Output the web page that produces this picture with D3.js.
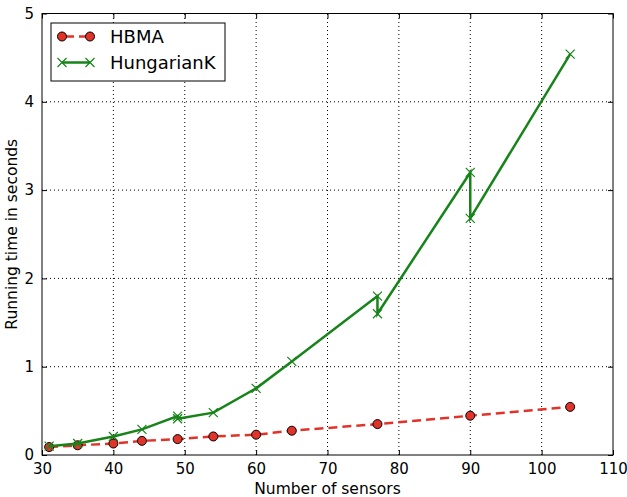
<!DOCTYPE html>
<html>
<head>
<meta charset="utf-8">
<script src="https://cdn.jsdelivr.net/npm/d3@7"></script>
<style>
  body { margin: 0; background: #fff; }
  text { font-family: "DejaVu Sans", sans-serif; fill: #000; }
</style>
</head>
<body>
<script>
//chart data
let hbmaX = [31, 35, 40, 44, 49, 54, 60, 65, 77, 90, 104],
    hbmaY = [0.09, 0.11, 0.13, 0.16, 0.18, 0.21, 0.23, 0.275, 0.35, 0.445, 0.545];

let hungX = [31, 35, 40, 44, 49, 49, 54, 60, 65, 77, 77, 90, 90, 104],
    hungY = [0.10, 0.13, 0.21, 0.29, 0.44, 0.41, 0.48, 0.755, 1.06, 1.8, 1.6, 3.2, 2.68, 4.54];

let xTicks = [30, 40, 50, 60, 70, 80, 90, 100, 110],
    yTicks = [0, 1, 2, 3, 4, 5];

let seriesNames = ["HBMA", "HungarianK"];

window.onload = drawChart();

function drawChart() {
    let width = 627,
        height = 497;

    let margin = {left: 42, right: 14, top: 13.5, bottom: 42};

    let svg = d3.select("body")
        .append("svg")
        .attr("width", width)
        .attr("height", height);

    let x = d3.scaleLinear()
        .domain([30, 110])
        .range([margin.left, width - margin.right]);

    let y = d3.scaleLinear()
        .domain([0, 5])
        .range([height - margin.bottom, margin.top]);

    let red = "#e0332a",
        green = "#17841a";

    //dotted grid
    svg.append("g")
        .selectAll("line")
        .data(xTicks.slice(1, -1))
        .enter()
        .append("line")
        .attr("x1", d => x(d)).attr("x2", d => x(d))
        .attr("y1", y(0)).attr("y2", y(5))
        .attr("stroke", "#000")
        .attr("stroke-width", 1)
        .attr("stroke-dasharray", "1,3");

    svg.append("g")
        .selectAll("line")
        .data(yTicks.slice(1, -1))
        .enter()
        .append("line")
        .attr("x1", x(30)).attr("x2", x(110))
        .attr("y1", d => y(d)).attr("y2", d => y(d))
        .attr("stroke", "#000")
        .attr("stroke-width", 1)
        .attr("stroke-dasharray", "1,3");

    //axes, ticks pointing inward on all sides
    let bottom = svg.append("g")
        .attr("transform", "translate(0," + y(0) + ")")
        .call(d3.axisBottom(x).tickValues(xTicks).tickSizeInner(-5).tickSizeOuter(0).tickPadding(8).tickFormat(d3.format("d")));
    let top = svg.append("g")
        .attr("transform", "translate(0," + y(5) + ")")
        .call(d3.axisTop(x).tickValues(xTicks).tickSizeInner(-5).tickSizeOuter(0).tickFormat(""));
    let left = svg.append("g")
        .attr("transform", "translate(" + x(30) + ",0)")
        .call(d3.axisLeft(y).tickValues(yTicks).tickSizeInner(-5).tickSizeOuter(0).tickPadding(8).tickFormat(d3.format("d")));
    let right = svg.append("g")
        .attr("transform", "translate(" + x(110) + ",0)")
        .call(d3.axisRight(y).tickValues(yTicks).tickSizeInner(-5).tickSizeOuter(0).tickFormat(""));

    [bottom, top, left, right].forEach(function (g) {
        g.select(".domain").remove();
        g.selectAll("line").attr("stroke", "#000");
        g.selectAll("text")
            .style("font-family", "DejaVu Sans")
            .style("font-size", "15px")
            .attr("fill", "#000");
    });

    //frame
    svg.append("rect")
        .attr("x", x(30))
        .attr("y", y(5))
        .attr("width", x(110) - x(30))
        .attr("height", y(0) - y(5))
        .attr("fill", "none")
        .attr("stroke", "#000")
        .attr("stroke-width", 1);

    //axis labels
    svg.append("text")
        .attr("x", (x(30) + x(110)) / 2)
        .attr("y", 494)
        .attr("text-anchor", "middle")
        .style("font-size", "15.5px")
        .text("Number of sensors");

    svg.append("text")
        .attr("transform", "translate(17," + (y(0) + y(5)) / 2 + ") rotate(-90)")
        .attr("text-anchor", "middle")
        .style("font-size", "15.5px")
        .text("Running time in seconds");

    let hbma = hbmaX.map((d, i) => [d, hbmaY[i]]),
        hung = hungX.map((d, i) => [d, hungY[i]]);

    let line = d3.line()
        .x(d => x(d[0]))
        .y(d => y(d[1]));

    //HBMA dashed line with circles
    svg.append("path")
        .datum(hbma)
        .attr("d", line)
        .attr("fill", "none")
        .attr("stroke", red)
        .attr("stroke-width", 2.5)
        .attr("stroke-dasharray", "9,5");

    svg.append("g")
        .selectAll("circle")
        .data(hbma)
        .enter()
        .append("circle")
        .attr("cx", d => x(d[0]))
        .attr("cy", d => y(d[1]))
        .attr("r", 4.5)
        .attr("fill", red)
        .attr("stroke", "#000")
        .attr("stroke-width", 1);

    //HungarianK solid line with x markers
    svg.append("path")
        .datum(hung)
        .attr("d", line)
        .attr("fill", "none")
        .attr("stroke", green)
        .attr("stroke-width", 2.5);

    let cross = "M-4.5,-4.5L4.5,4.5M-4.5,4.5L4.5,-4.5";

    svg.append("g")
        .selectAll("path")
        .data(hung)
        .enter()
        .append("path")
        .attr("transform", d => "translate(" + x(d[0]) + "," + y(d[1]) + ")")
        .attr("d", cross)
        .attr("fill", "none")
        .attr("stroke", green)
        .attr("stroke-width", 1.2);

    //legend
    let legend = svg.append("g");

    legend.append("rect")
        .attr("x", 51)
        .attr("y", 23)
        .attr("width", 174)
        .attr("height", 58)
        .attr("fill", "#fff")
        .attr("stroke", "#000")
        .attr("stroke-width", 1);

    let rowY = [36.5, 62.5];

    //HBMA handle
    legend.append("line")
        .attr("x1", 62).attr("x2", 90)
        .attr("y1", rowY[0]).attr("y2", rowY[0])
        .attr("stroke", red)
        .attr("stroke-width", 2.5)
        .attr("stroke-dasharray", "9,5")
        .attr("stroke-dashoffset", -3);
    [62, 90].forEach(function (px) {
        legend.append("circle")
            .attr("cx", px).attr("cy", rowY[0])
            .attr("r", 4.5)
            .attr("fill", red)
            .attr("stroke", "#000")
            .attr("stroke-width", 1);
    });

    //HungarianK handle
    legend.append("line")
        .attr("x1", 62).attr("x2", 90)
        .attr("y1", rowY[1]).attr("y2", rowY[1])
        .attr("stroke", green)
        .attr("stroke-width", 2.5);
    [62, 90].forEach(function (px) {
        legend.append("path")
            .attr("transform", "translate(" + px + "," + rowY[1] + ")")
            .attr("d", cross)
            .attr("fill", "none")
            .attr("stroke", green)
            .attr("stroke-width", 1.2);
    });

    legend.selectAll(".label")
        .data(seriesNames)
        .enter()
        .append("text")
        .attr("class", "label")
        .attr("x", 110)
        .attr("y", (d, i) => rowY[i])
        .attr("dy", "0.36em")
        .style("font-size", "18px")
        .text(d => d);
}
</script>
</body>
</html>
